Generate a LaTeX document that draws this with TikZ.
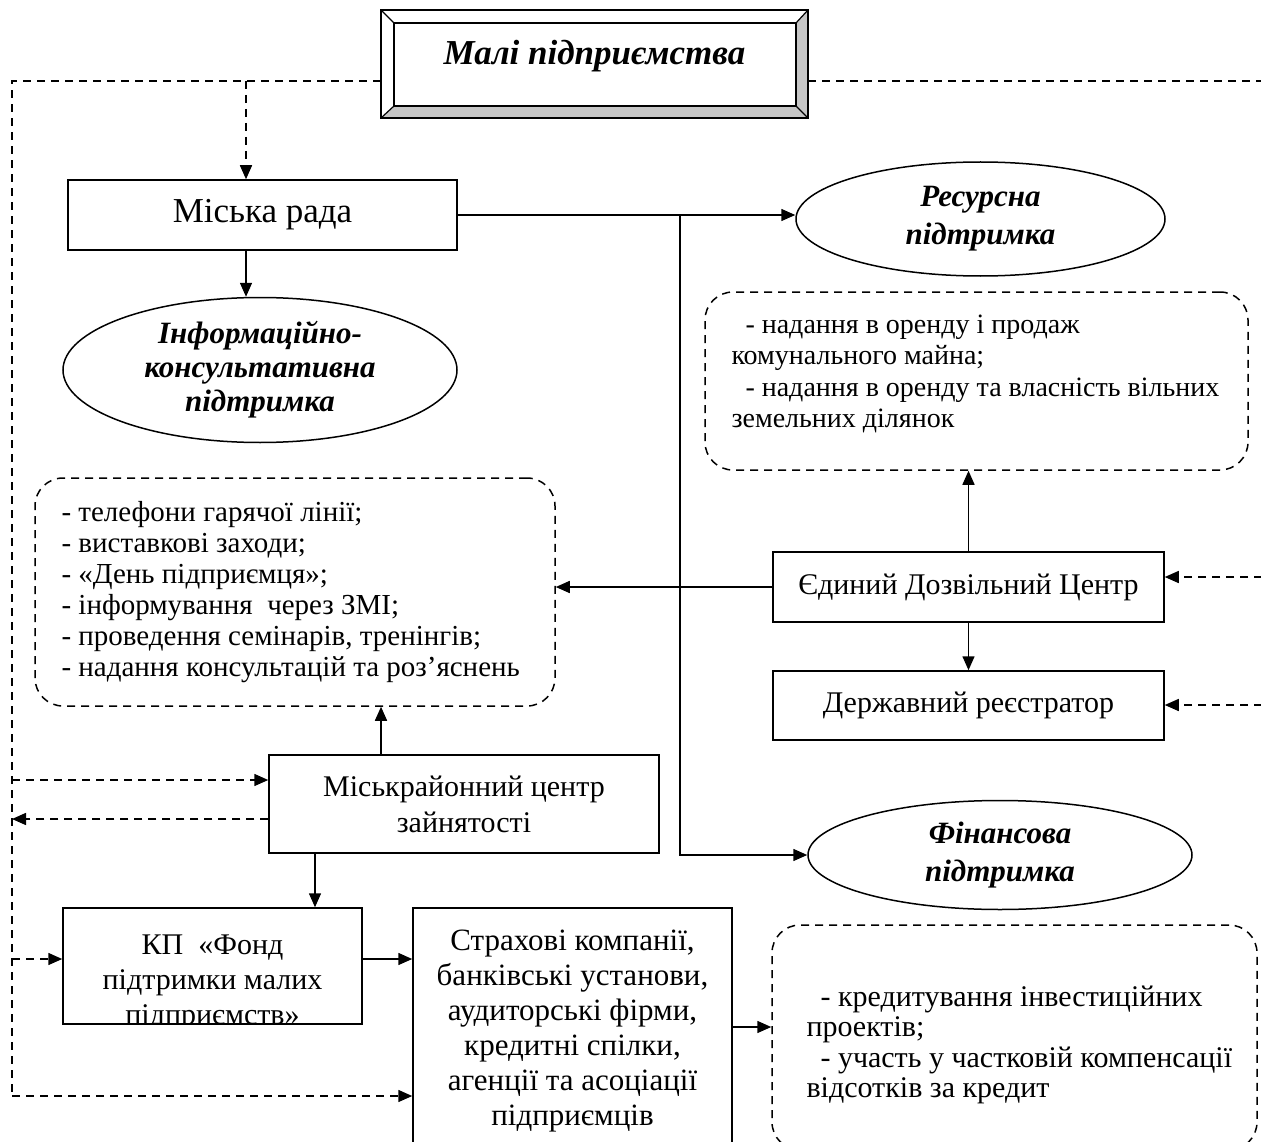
\documentclass[tikz,border=0pt]{standalone}
\usepackage{fontspec}
\setmainfont{Liberation Serif}
\usetikzlibrary{arrows.meta,shapes.geometric,calc}
\begin{document}
\begin{tikzpicture}[x=1pt,y=-1pt,
  box/.style={draw, line width=1.5pt, inner sep=0pt, align=center},
  bodyfont/.style={font=\fontsize{30}{36}\selectfont},
  listfont/.style={font=\fontsize{29}{31}\selectfont},
  oval/.style={draw, ellipse, line width=1.5pt, inner sep=0pt, align=center, font=\fontsize{31}{38}\bfseries\itshape\selectfont},
  dbox/.style={draw, dash pattern=on 8pt off 6pt, line width=1.5pt, rounded corners=28pt, inner sep=0pt},
  arr/.style={line width=1.5pt, -{Triangle[length=14pt,width=12pt]}},
  darr/.style={arr, dash pattern=on 8pt off 6pt},
  dline/.style={line width=1.5pt, dash pattern=on 8pt off 6pt},
]
\useasboundingbox (0,0) rectangle (1261,1142);

% --- top bevelled box
\fill[gray!45] (808,10) -- (796,23) -- (796,106) -- (394,106) -- (381,118) -- (808,118) -- cycle;
\draw[line width=1.5pt] (381,10) rectangle (808,118);
\draw[line width=1.2pt] (394,23) rectangle (796,106);
\draw[line width=1.2pt] (381,10) -- (394,23) (808,10) -- (796,23) (381,118) -- (394,106) (808,118) -- (796,106);
\node[minimum width=427pt, minimum height=108pt, inner sep=0pt] (top) at (594.5,64) {};
\node[font=\fontsize{35}{40}\bfseries\itshape\selectfont] (title) at (594.5,56) {Малі підприємства};

% --- nodes
\node[box, font=\fontsize{35}{40}\selectfont, minimum width=389pt, minimum height=70pt] (rada) at (262.5,215) {Міська рада};
\node[oval, font=\fontsize{31}{34}\bfseries\itshape\selectfont, minimum width=394pt, minimum height=145pt] (info) at (260,370) {Інформаційно-\\консультативна\\підтримка};
\node[oval, minimum width=369pt, minimum height=114pt] (res) at (980.5,219) {Ресурсна\\підтримка};
\node[oval, minimum width=384pt, minimum height=109pt] (fin) at (1000,855) {Фінансова\\підтримка};

\node[dbox, minimum width=520pt, minimum height=228pt] (lbox) at (295,592) {};
\node[listfont, align=left, anchor=west] (ltext) at (58,592) {- телефони гарячої лінії;\\- виставкові заходи;\\- «День підприємця»;\\- інформування~ через ЗМІ;\\- проведення семінарів, тренінгів;\\- надання консультацій та роз’яснень};

\node[dbox, minimum width=543pt, minimum height=178pt] (rtbox) at (976.5,381) {};
\node[font=\fontsize{28}{31.5}\selectfont, align=left, anchor=west] (rttext) at (728,374) {\hspace*{14pt}- надання в оренду і продаж\\комунального майна;\\\hspace*{14pt}- надання в оренду та власність вільних\\земельних ділянок};

\node[box, bodyfont, minimum width=391pt, minimum height=70pt] (edc) at (968.5,587) {Єдиний Дозвільний Центр};
\node[box, bodyfont, minimum width=391pt, minimum height=69pt] (reg) at (968.5,705.5) {Державний реєстратор};
\node[box, bodyfont, minimum width=390pt, minimum height=98pt] (mcz) at (464,804) {Міськрайонний центр\\зайнятості};

\node[box, minimum width=299pt, minimum height=116pt] (kp) at (212.5,966) {};
\begin{scope}
\clip (63,908) rectangle (362,1024);
\node[font=\fontsize{30}{35}\selectfont, align=center, anchor=north] (kptext) at (212.5,931) {КП~ «Фонд\\підтримки малих\\підприємств»};
\end{scope}

\node[box, minimum width=319pt, minimum height=252pt] (ins) at (572.5,1034) {};
\node[font=\fontsize{31}{35}\selectfont, align=center, anchor=north] (instext) at (572.5,926) {Страхові компанії,\\банківські установи,\\аудиторські фірми,\\кредитні спілки,\\агенції та асоціації\\підприємців};

\node[dbox, minimum width=485pt, minimum height=225pt] (fbox) at (1014.5,1037.5) {};
\node[font=\fontsize{30}{30.5}\selectfont, align=left, anchor=west] (ftext) at (803,1045) {\hspace*{14pt}- кредитування інвестиційних\\проектів;\\\hspace*{14pt}- участь у частковій компенсації\\відсотків за кредит};

% --- coordinates
\coordinate (L1) at (12,81);
\coordinate (L2) at (12,1096);
\coordinate (L3) at (12,780);
\coordinate (L4) at (12,819);
\coordinate (L5) at (12,959);
\coordinate (B1) at (246,81);
\coordinate (R1) at (1262,81);
\coordinate (R2) at (1262,577);
\coordinate (R3) at (1262,705);
\coordinate (J) at (680,215);
\coordinate (U1) at (381,755);
\coordinate (D1) at (315,853);
\coordinate (A1) at (732,1027);

% --- dashed connectors
\draw[dline] (top.west |- L1) -- (L1) -- (L2);
\draw[dline] (top.east |- R1) -- (R1);
\draw[darr] (B1) -- (B1 |- rada.north);
\draw[darr] (L2) -- (L2 -| ins.west);
\draw[darr] (L3) -- (L3 -| mcz.west);
\draw[darr] (L4 -| mcz.west) -- (L4);
\draw[darr] (L5) -- (L5 -| kp.west);
\draw[darr] (R2) -- (R2 -| edc.east);
\draw[darr] (R3) -- (R3 -| reg.east);

% --- solid connectors
\draw[arr] (rada.south -| B1) -- (B1 |- info.north);
\draw[arr] (rada.east) -- (rada.east -| res.west);
\draw[arr] (J) -- (J |- fin.west) -- (fin.west);
\draw[arr] (edc.north) -- (edc.north |- rtbox.south);
\draw[arr] (edc.west) -- (edc.west -| lbox.east);
\draw[arr] (edc.south) -- (reg.north);
\draw[arr] (U1) -- (U1 |- lbox.south);
\draw[arr] (D1) -- (D1 |- kp.north);
\draw[arr] (kp.east |- L5) -- (L5 -| ins.west);
\draw[arr] (A1) -- (A1 -| fbox.west);
\end{tikzpicture}
\end{document}
